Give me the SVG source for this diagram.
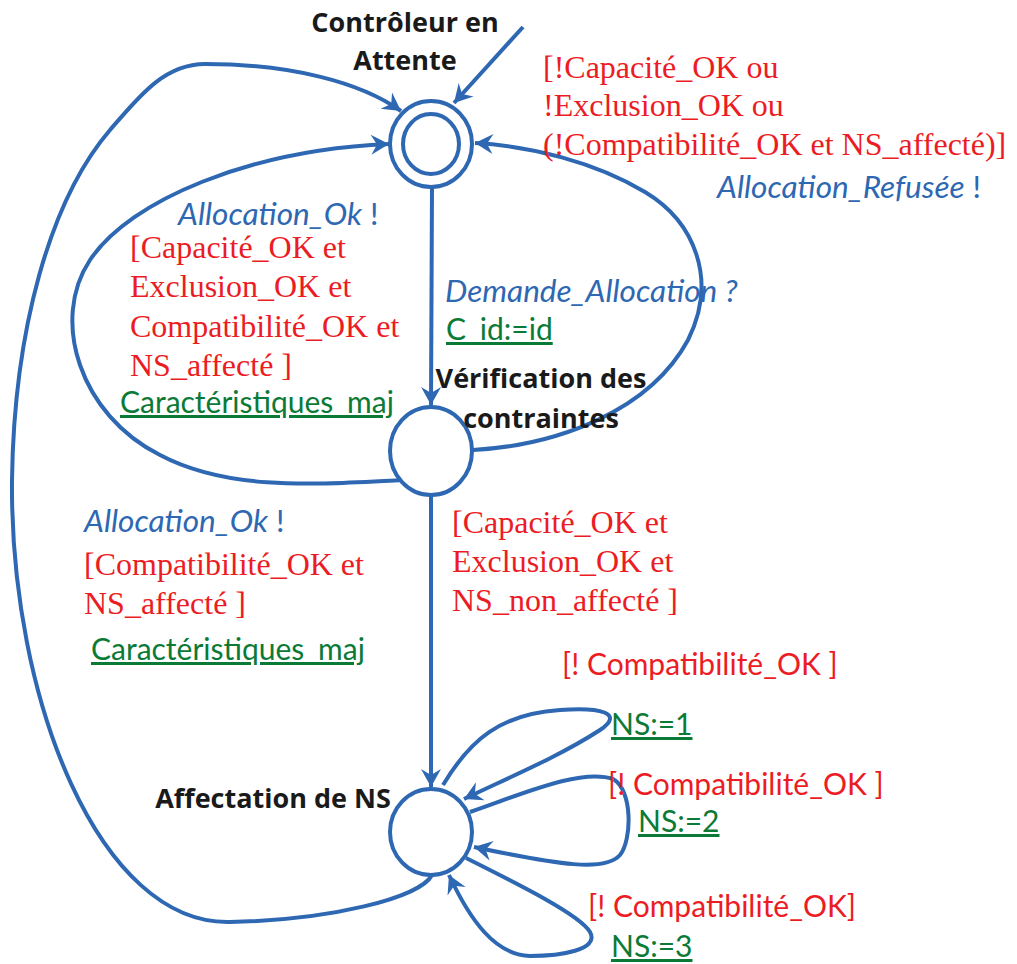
<svg xmlns="http://www.w3.org/2000/svg" width="1017" height="964" viewBox="0 0 1017 964">
  <style>
    .state { fill: #ffffff; stroke: #2E67B2; stroke-width: 4; }
    .edge { fill: none; stroke: #2E67B2; stroke-width: 4; marker-end: url(#arrow); }
    .name { font-family: "Open Sans", "Liberation Sans", sans-serif; font-weight: bold; font-size: 27px; fill: #1a1a1a; text-anchor: middle; }
    .guard { font-family: "Liberation Serif", serif; font-size: 32px; fill: #EC1C24; }
    .guard2 { font-family: "Lato", "Liberation Sans", sans-serif; font-size: 30px; fill: #EC1C24; }
    .sig { font-family: "Lato", "Liberation Sans", sans-serif; font-size: 31.5px; fill: #2E67B2; }
    .sig .it { font-style: italic; }
    .act { font-family: "Lato", "Liberation Sans", sans-serif; font-size: 30px; fill: #0B7A36; text-decoration: underline; }
  </style>
  <defs>
    <marker id="arrow" markerUnits="userSpaceOnUse" markerWidth="24" markerHeight="22" viewBox="-19 -11 21 22" refX="0" refY="0" orient="auto">
      <path d="M0,0 L-18,-10 L-12,0 L-18,10 Z" fill="#2E67B2"/>
    </marker>
  </defs>

  <!-- transitions -->
  <g id="connectors">
    <!-- initial transition -->
    <path class="edge" d="M523,27 L454,103"/>
    <!-- Attente -> Vérification -->
    <path class="edge" d="M432,187 L431,405"/>
    <!-- Vérification -> Affectation -->
    <path class="edge" d="M431,495 L431,787"/>
    <!-- Vérification -> Attente (accept) -->
    <path class="edge" d="M403,480 C320,484 230,492 160,455 C80,415 50,320 90,260 C130,200 250,150 389,144"/>
    <!-- Vérification -> Attente (refuse) -->
    <path class="edge" d="M473,450 C560,445 650,410 688,340 C718,280 695,222 645,192 C595,162 530,146 475,143"/>
    <!-- Affectation -> Attente -->
    <path class="edge" d="M432,875 C420,898 330,920 230,922 C100,925 10,700 12,480 C14,330 50,200 110,130 C140,95 165,64 205,64 C290,64 360,82 401,111"/>
    <!-- self loops on Affectation de NS -->
    <path class="edge" d="M443,785 C470,740 500,714 560,710 C600,707 625,713 600,730 C560,756 510,777 464,799"/>
    <path class="edge" d="M470,812 C520,795 580,768 613,779 C633,790 632,840 620,855 C605,872 560,865 474,847"/>
    <path class="edge" d="M466,858 C520,885 580,915 590,932 C600,950 560,956 530,956 C495,955 470,920 449,875"/>
  </g>

  <g id="attente">
    <ellipse class="state" cx="431" cy="144" rx="41" ry="43"/>
    <ellipse class="state" cx="431" cy="144" rx="28" ry="30"/>
    <text class="name" x="405" y="32">Contrôleur en</text>
    <text class="name" x="405" y="70">Attente</text>
  </g>

  <g id="verification">
    <ellipse class="state" cx="431" cy="451" rx="41" ry="44"/>
    <text class="name" x="541" y="388">Vérification des</text>
    <text class="name" x="541" y="428">contraintes</text>
  </g>

  <g id="affectation">
    <ellipse class="state" cx="431" cy="832" rx="41" ry="43"/>
    <text class="name" x="273" y="808">Affectation de NS</text>
  </g>

  <g id="labels">
    <!-- refusal -->
    <text class="guard" x="543" y="78">[!Capacité_OK ou</text>
    <text class="guard" x="543" y="116">!Exclusion_OK ou</text>
    <text class="guard" x="543" y="155">(!Compatibilité_OK et NS_affecté)]</text>
    <text class="sig" x="717" y="198"><tspan class="it">Allocation_Refusée</tspan> !</text>

    <!-- accept back to waiting -->
    <text class="sig" x="178" y="225"><tspan class="it">Allocation_Ok</tspan> !</text>
    <text class="guard" x="130" y="258">[Capacité_OK et</text>
    <text class="guard" x="130" y="297">Exclusion_OK et</text>
    <text class="guard" x="130" y="337">Compatibilité_OK et</text>
    <text class="guard" x="130" y="376">NS_affecté ]</text>
    <text class="act" x="120" y="413">Caractéristiques_maj</text>

    <!-- request -->
    <text class="sig" x="445" y="302"><tspan class="it">Demande_Allocation ?</tspan></text>
    <text class="act" x="446" y="340">C_id:=id</text>

    <!-- accept from assignment -->
    <text class="sig" x="84" y="532"><tspan class="it">Allocation_Ok</tspan> !</text>
    <text class="guard" x="84" y="575">[Compatibilité_OK et</text>
    <text class="guard" x="84" y="614">NS_affecté ]</text>
    <text class="act" x="91" y="660">Caractéristiques_maj</text>

    <!-- to assignment -->
    <text class="guard" x="452" y="533">[Capacité_OK et</text>
    <text class="guard" x="452" y="572">Exclusion_OK et</text>
    <text class="guard" x="452" y="611">NS_non_affecté ]</text>

    <!-- self loops -->
    <text class="guard2" x="562" y="675">[! Compatibilité_OK ]</text>
    <text class="act" x="611" y="735">NS:=1</text>
    <text class="guard2" x="608" y="795">[! Compatibilité_OK ]</text>
    <text class="act" x="638" y="832">NS:=2</text>
    <text class="guard2" x="588" y="917">[! Compatibilité_OK]</text>
    <text class="act" x="611" y="957">NS:=3</text>
  </g>
</svg>
